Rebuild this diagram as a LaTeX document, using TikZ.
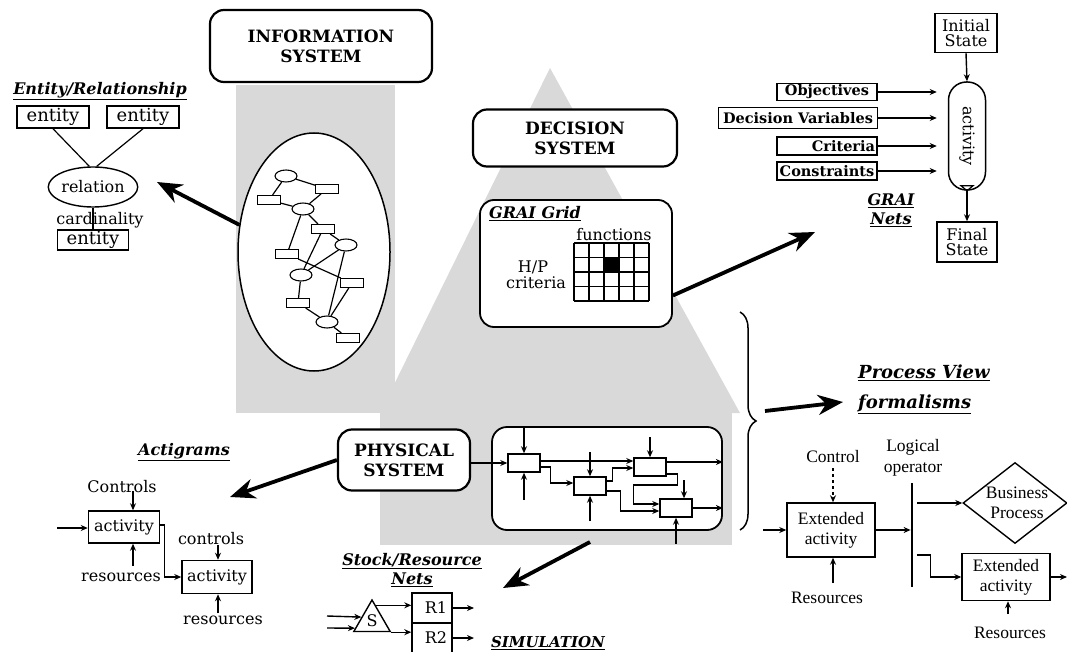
\documentclass[tikz,border=0pt]{standalone}
\usepackage{fontspec}
\setmainfont{DejaVu Serif}
\newfontfamily\timesfont{Liberation Serif}
\usetikzlibrary{arrows.meta,shapes.geometric,decorations.pathreplacing,calc}

\begin{document}
\begin{tikzpicture}[x=1pt,y=-1pt,
  sysbox/.style={draw, line width=2.2pt, rounded corners=14pt, fill=white, align=center,
    inner sep=0pt, font=\fontsize{17}{20}\selectfont\bfseries},
  heading/.style={align=center, inner sep=0pt, font=\fontsize{16}{19}\selectfont\bfseries\itshape},
  plain/.style={align=center, inner sep=0pt, font=\fontsize{16}{18}\selectfont},
  tbox/.style={draw, line width=1.5pt, fill=white},
  lbl/.style={draw, line width=1.5pt, fill=white, inner sep=0pt, minimum height=18pt,
    font=\fontsize{14.5}{16}\selectfont\bfseries},
  tms/.style={align=center, inner sep=0pt, font=\fontsize{17.5}{20}\selectfont\timesfont},
  netE/.style={draw, ellipse, line width=1.1pt, fill=white, minimum width=22pt,
    minimum height=12pt, inner sep=0pt},
  netR/.style={draw, line width=1.1pt, fill=white, minimum width=23pt,
    minimum height=9pt, inner sep=0pt},
  pbox/.style={draw, line width=1.5pt, fill=white, minimum width=32pt, minimum height=18pt, inner sep=0pt},
  link/.style={line width=1.2pt},
  bigarrow/.style={line width=3.8pt, -{Stealth[length=25pt,width=20pt,inset=8pt]}},
  sarrow/.style={line width=1.4pt, -{Stealth[length=7pt,width=6pt]}},
  shade/.style={fill=black!15}]

\useasboundingbox (0,0) rectangle (1067,652);
\fill[white] (0,0) rectangle (1067,652);

% halftone background of the three systems
\fill[shade] (236,85) rectangle (395,413);
\fill[shade] (550,68) -- (740,413) -- (380,413) -- cycle;
\fill[shade] (380,413) rectangle (732,545);

% ---------------- Information system ----------------
\node[sysbox, minimum width=222pt, minimum height=72pt] (info) at (321,46) {INFORMATION\\SYSTEM};
\node[draw, ellipse, line width=1.5pt, fill=white, minimum width=152pt, minimum height=238pt] (ell) at (314,252) {};

\node[netE] (e1) at (286,176) {};
\node[netR] (r1) at (327,189) {};
\node[netR] (r2) at (269,200) {};
\node[netE] (e2) at (303,209) {};
\node[netR] (r3) at (323,229) {};
\node[netE] (e3) at (346,245) {};
\node[netR] (r4) at (287,254) {};
\node[netE] (e4) at (301,275) {};
\node[netR] (r5) at (352,283) {};
\node[netR] (r6) at (298,303) {};
\node[netE] (e5) at (327,322) {};
\node[netR] (r7) at (348,338) {};
\foreach \a/\b in {e1/r1,e1/r2,r2/e2,r1/e2,e2/r3,e2/r4,r3/e3,r3/e4,e3/e4,e3/e5,r4/r5,e4/r6,r5/e5,r6/e5,e5/r7}
  \draw[link] (\a) -- (\b);

% Entity / Relationship
\node[heading] (ertitle) at (100,91) {\underline{Entity/Relationship}};
\node[tbox, plain, font=\fontsize{18}{20}\selectfont, minimum width=72pt, minimum height=22pt] (ent1) at (53,117) {entity};
\node[tbox, plain, font=\fontsize{18}{20}\selectfont, minimum width=72pt, minimum height=22pt] (ent2) at (143,117) {entity};
\node[draw, ellipse, line width=1.4pt, fill=white, plain, minimum width=68pt, minimum height=40pt] (rel) at (93,187) {relation};
\node[tbox, plain, font=\fontsize{18}{20}\selectfont, minimum width=71pt, minimum height=20pt] (ent3) at (93,240) {entity};
\draw[link] (ent1.south) -- (rel.100);
\draw[link] (ent2.south) -- (rel.80);
\draw[link] (rel.south) -- (ent3.north);
\node[plain] (card) at (100,220) {cardinality};

\coordinate (erTip) at (157,182);
\draw[bigarrow] (ell.160) -- (erTip);

% ---------------- Decision system ----------------
\node[sysbox, minimum width=204pt, minimum height=57pt] (dec) at (575,138) {DECISION\\SYSTEM};
\node[draw, line width=1.8pt, rounded corners=14pt, fill=white, minimum width=192pt, minimum height=127pt] (grai) at (576,263.5) {};
\node[heading] (graititle) at (535,214) {\underline{GRAI Grid}};
\foreach \i in {0,...,5} \draw[line width=1.5pt] (574+15*\i,243) -- (574+15*\i,301);
\foreach \j in {0,...,4} \draw[line width=1.5pt] (574,243+14.5*\j) -- (649,243+14.5*\j);
\fill (604,257.5) rectangle (619,272);
\node[plain] (func) at (614,235) {functions};
\node[plain] (hp) at (533,267) {H/P};
\node[plain] (crit) at (536,283) {criteria};

\coordinate (graiTip) at (815,232);
\draw[bigarrow] ($(grai.east)+(0,32)$) -- (graiTip);

% GRAI nets
\node[tbox, plain, minimum width=62pt, minimum height=39pt, inner sep=0pt] (init) at (966,33) {Initial\\[-3pt]State};
\node[draw, line width=1.5pt, fill=white, minimum width=37pt, minimum height=108pt, rounded corners=18pt] (act) at (967,136) {};
\node[plain, rotate=-90] (acttxt) at (act.center) {activity};
\draw[line width=1.2pt] ($(act.south)+(-6,-5)$) -- ($(act.south)+(6,-5)$) -- (act.south) -- cycle;
\node[tbox, plain, minimum width=60pt, minimum height=40pt, inner sep=0pt] (final) at (967,242) {Final\\[-3pt]State};
\draw[sarrow] (init.south) -- (act.north);
\draw[sarrow] (act.south) -- (final.north);

\node[lbl, minimum width=100pt, minimum height=17pt] (obj) at (827,92) {Objectives};
\node[lbl, minimum width=159pt, minimum height=21pt] (dv) at (798,118) {Decision Variables};
\node[lbl, minimum width=100pt, align=right, text width=96pt] (cri) at (827,146) {Criteria};
\node[lbl, minimum width=100pt] (cons) at (827,171) {Constraints};
\foreach \n in {obj,dv,cri,cons}
  \draw[sarrow, shorten >=11pt] (\n.east) -- (\n.east -| act.west);
\node[heading] (grainets) at (891,210) {\underline{GRAI}\\\underline{Nets}};

% ---------------- Physical system ----------------
\node[sysbox, minimum width=132pt, minimum height=61pt] (phys) at (404,460) {PHYSICAL\\SYSTEM};
\node[draw, line width=1.8pt, rounded corners=15pt, fill=white, minimum width=230pt, minimum height=103pt, inner sep=0pt] (proc) at (607,478.5) {};
\node[pbox] (pA) at (524,463) {};
\node[pbox] (pB) at (590,486) {};
\node[pbox] (pC) at (650,467) {};
\node[pbox] (pD) at (676,508) {};

\draw[sarrow] (phys.east |- pA.west) -- (pA.west);
\draw[sarrow] (pA.north |- proc.north) -- (pA.north);
\coordinate (pAb) at (524,500);
\draw[sarrow] (pAb) -- (pA.south);
\draw[sarrow] ($(pA.east)+(0,-2)$) -- ($(pC.west)+(0,-6)$);
\draw[sarrow] ($(pA.east)+(0,4)$) -- ++(10,0) |- ($(pB.west)+(0,-3)$);
\draw[sarrow] ($(pB.east)+(0,-5)$) -- ++(6,0) |- ($(pC.west)+(0,1)$);
\draw[sarrow] ($(pB.east)+(0,5)$) -- ++(14,0) |- ($(pD.west)+(0,3)$);
\draw[sarrow] ($(pC.east)+(0,7)$) -- ++(11,0) -- ++(0,11) -- ++(-44,0) |- ($(pD.west)+(0,-4)$);
\coordinate (pBt) at (590,452);
\draw[sarrow] (pBt) -- (pB.north);
\coordinate (pBb) at (590,521);
\draw[sarrow] (pBb) -- (pB.south);
\coordinate (pCt) at (650,437);
\draw[sarrow] (pCt) -- (pC.north);
\coordinate (pCr) at ($(pC.east)+(0,-5)$);
\draw[sarrow] (pCr) -- (pCr -| proc.east);
\coordinate (pDt) at (684,480);
\draw[sarrow] (pDt) -- ($(pD.north)+(8,0)$);
\draw[sarrow] (pD.east) -- (pD.east -| proc.east);
\coordinate (pDb) at (676,544);
\draw[sarrow] (pDb) -- (pD.south);

% Actigrams
\coordinate (actgTip) at (230,497);
\draw[bigarrow] (phys.west) -- (actgTip);
\node[heading] (actgtitle) at (184,452) {\underline{Actigrams}};
\node[tbox, plain, minimum width=71pt, minimum height=32pt, inner sep=0pt] (a1) at (124,527) {activity};
\node[tbox, plain, minimum width=70pt, minimum height=33pt, inner sep=0pt] (a2) at (217,577) {activity};
\node[plain] (ctl1) at (122,487) {Controls};
\node[plain] (res1) at (121,577) {resources};
\node[plain] (ctl2) at (211,539) {controls};
\node[plain] (res2) at (223,620) {resources};
\draw[sarrow] ($(a1.north)+(9,-19)$) -- ($(a1.north)+(9,0)$);
\draw[sarrow] ($(a1.south)+(9,22)$) -- ($(a1.south)+(9,0)$);
\coordinate (a1in) at (57,528);
\draw[sarrow] (a1in) -- (a1.west |- a1in);
\draw[sarrow] ($(a1.east)+(0,-2)$) -- ++(4,0) |- (a2.west);
\draw[sarrow] ($(a2.north)+(1,-15)$) -- ($(a2.north)+(1,0)$);
\draw[sarrow] ($(a2.south)+(1,19)$) -- ($(a2.south)+(1,0)$);

% Stock / resource nets
\coordinate (procOut) at (590,542);
\coordinate (stockTip) at (503,588);
\draw[bigarrow] (procOut) -- (stockTip);
\node[heading] (stocktitle) at (412,570) {\underline{Stock/Resource}\\\underline{Nets}};
\node[draw, regular polygon, regular polygon sides=3, line width=1.4pt, minimum size=42pt, inner sep=0pt] (stk) at (372,621) {};
\node[plain] (stkS) at (372,621) {S};
\node[tbox, plain, minimum width=40pt, minimum height=30pt, inner sep=0pt] (R1) at (432,608) {\hspace{8pt}R1};
\node[tbox, plain, minimum width=40pt, minimum height=30pt, inner sep=0pt] (R2) at (432,638) {\hspace{8pt}R2};
\coordinate (sin1) at (327,616);
\coordinate (sin2) at (327,628);
\coordinate (sl1) at ($(stk.corner 1)!0.55!(stk.corner 2)$);
\coordinate (sl2) at ($(stk.corner 1)!0.88!(stk.corner 2)$);
\coordinate (sr1) at ($(stk.corner 1)!0.2!(stk.corner 3)$);
\draw[sarrow] (sin1) -- (sl1);
\draw[sarrow] (sin2) -- (sl2);
\draw[sarrow] (sr1) -- (sr1 -| R1.west);
\draw[sarrow] (stk.corner 3) -- (stk.corner 3 -| R2.west);
\coordinate (r1out) at (474,608);
\coordinate (r2out) at (474,638);
\draw[sarrow] (R1.east) -- (r1out);
\draw[sarrow] (R2.east) -- (r2out);
\node[heading, font=\fontsize{15}{18}\selectfont\bfseries\itshape] (sim) at (548,643) {\underline{SIMULATION}};

% ---------------- Process view ----------------
\draw[line width=1.5pt, decorate, decoration={brace, amplitude=16pt}] (740,312) -- (740,530);
\coordinate (braceTip) at (765,411);
\coordinate (pvTip) at (843,402);
\draw[bigarrow] (braceTip) -- (pvTip);
\node[heading, anchor=west, align=left, font=\fontsize{18}{30}\selectfont\bfseries\itshape] (pvtitle) at (858,389) {\underline{Process View}\\\underline{formalisms}};

\node[tbox, tms, minimum width=88pt, minimum height=54pt, inner sep=0pt] (ext1) at (831,530) {Extended\\activity};
\node[tms] (ctrl) at (833,457) {Control};
\coordinate (ctrlTop) at (833,468);
\draw[sarrow, dashed] (ctrlTop) -- (ext1.north -| ctrlTop);
\node[tms] (resA) at (827,598) {Resources};
\coordinate (resATop) at (833,583);
\draw[sarrow] (resATop) -- (ext1.south -| resATop);
\coordinate (extIn) at (763,530);
\draw[sarrow] (extIn) -- (ext1.west);
\node[fill=black, minimum width=2.4pt, minimum height=104pt, inner sep=0pt] (bar) at (912,535) {};
\node[tms, font=\fontsize{17.5}{21}\selectfont\timesfont] (logop) at (913,458) {Logical\\operator};
\draw[sarrow] (ext1.east) -- (ext1.east -| bar.west);
\node[draw, diamond, line width=1.4pt, minimum width=104pt, minimum height=81pt, inner sep=0pt] (bp) at (1015,503) {};
\node[tms] (bptxt) at (1017,503) {Business\\Process};
\draw[sarrow] ($(bar.east)+(4,-32)$) -- (bp.west);
\node[tbox, tms, minimum width=88pt, minimum height=47pt, inner sep=0pt] (ext2) at (1006,577) {Extended\\activity};
\draw[sarrow] ($(bar.east)+(4,20)$) -- ++(13,0) |- (ext2.west);
\coordinate (ext2out) at (1067,577);
\draw[sarrow] (ext2.east) -- (ext2out);
\coordinate (resBTop) at (1008,614);
\draw[sarrow] (resBTop) -- (ext2.south -| resBTop);
\node[tms] (resB) at (1010,633) {Resources};
\end{tikzpicture}
\end{document}
